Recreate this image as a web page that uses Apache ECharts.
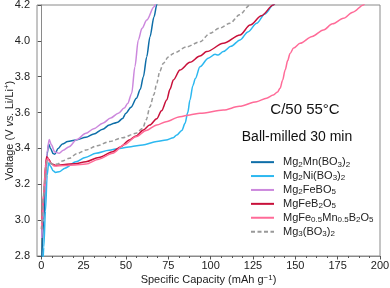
<!DOCTYPE html>
<html>
<head>
<meta charset="utf-8">
<script src="https://cdn.jsdelivr.net/npm/echarts@6/dist/echarts.min.js"></script>
<style>html,body{margin:0;padding:0;background:#fff}#c{width:390px;height:288px}</style>
</head>
<body>
<div id="c"></div>
<script>
var xTicks = [0, 25, 50, 75, 100, 125, 150, 175, 200];
var yTicks = [2.8, 3.0, 3.2, 3.4, 3.6, 3.8, 4.0, 4.2];
var seriesNames = ['Mg2Mn(BO3)2', 'Mg2Ni(BO3)2', 'Mg2FeBO5', 'MgFeB2O5', 'MgFe0.5Mn0.5B2O5', 'Mg3(BO3)2'];
var legendLabels = [
  'Mg{s|2}Mn(BO{s|3}){s|2}',
  'Mg{s|2}Ni(BO{s|3}){s|2}',
  'Mg{s|2}FeBO{s|5}',
  'MgFeB{s|2}O{s|5}',
  'MgFe{s|0.5}Mn{s|0.5}B{s|2}O{s|5}',
  'Mg{s|3}(BO{s|3}){s|2}'
];
var mg2mn = [[0.3,2.78],[1.5,3.0],[2.5,3.22],[3.5,3.37],[4.4,3.425],[5.5,3.40],[7,3.372],[8,3.368],[10,3.40],[12.5,3.425],[15.6,3.438],[20.5,3.447],[26.4,3.462],[31,3.48],[36.3,3.507],[40.2,3.531],[43,3.54],[45.1,3.546],[48,3.567],[50,3.596],[53,3.63],[56.2,3.68],[58.5,3.73],[60.3,3.8],[62.3,3.912],[64.2,4.023],[66.6,4.135],[68.2,4.2],[69,4.25]];
var mg2ni = [[1.0,2.75],[1.5,2.85],[2.5,3.05],[3.5,3.25],[4.4,3.32],[5.5,3.30],[7,3.275],[8.5,3.266],[10.6,3.27],[14,3.29],[20.5,3.326],[26,3.35],[32.3,3.373],[40,3.39],[46.1,3.40],[53,3.41],[59.9,3.419],[68.2,3.438],[73.7,3.447],[78,3.46],[80,3.475],[83,3.50],[84.9,3.54],[86.5,3.6],[87.8,3.67],[89.5,3.75],[91,3.79],[93.7,3.856],[98.6,3.903],[102.6,3.925],[104.5,3.921],[107.5,3.94],[112,3.97],[117.4,4.005],[122,4.05],[127.2,4.098],[132,4.15],[137,4.2],[138,4.21]];
var mg2febo5 = [[0.3,2.9],[2,3.15],[3.5,3.38],[4.7,3.45],[6,3.42],[8,3.38],[10.6,3.373],[13,3.39],[16.5,3.41],[21,3.45],[26.4,3.484],[31,3.51],[36.3,3.54],[41,3.57],[45.5,3.596],[49,3.625],[51,3.65],[53.4,3.707],[55.3,3.856],[57.3,4.005],[59.5,4.07],[62.3,4.116],[66.6,4.19],[67.5,4.21]];
var mgfeb2o5 = [[0.2,2.95],[1.5,3.15],[2.5,3.30],[3.2,3.354],[4.5,3.34],[6,3.315],[8.7,3.305],[14,3.31],[20,3.315],[26.4,3.326],[34,3.35],[42.2,3.382],[47,3.41],[52,3.447],[56,3.47],[60.3,3.503],[64,3.53],[68.2,3.565],[71,3.61],[74.1,3.67],[76,3.73],[78,3.782],[81.9,3.837],[87.8,3.88],[93.7,3.915],[97.7,3.94],[107.5,3.986],[117.4,4.033],[123.3,4.088],[130,4.14],[137,4.2],[138,4.21]];
var mgfemn = [[0.2,2.95],[1.5,3.15],[2.7,3.32],[3.8,3.345],[5,3.325],[7.7,3.302],[14,3.305],[20,3.308],[26.4,3.313],[34,3.34],[42.2,3.373],[49,3.42],[55.9,3.465],[62,3.5],[68.2,3.531],[73.7,3.549],[81.9,3.577],[87.8,3.587],[93.7,3.596],[107.5,3.614],[117,3.635],[127.2,3.661],[133,3.68],[137,3.698],[139.5,3.715],[141,3.735],[142.5,3.78],[144,3.837],[145.5,3.89],[146.9,3.93],[149,3.96],[152.8,3.986],[160,4.025],[166.6,4.061],[172,4.095],[178.4,4.126],[184,4.16],[190.2,4.2],[191,4.21]];
var mg3 = [[0.3,2.95],[2,3.2],[3.5,3.33],[5,3.32],[7,3.31],[9.7,3.313],[12.5,3.33],[16.5,3.345],[21,3.37],[26.4,3.391],[33,3.415],[40.2,3.438],[48,3.46],[55.9,3.484],[59.9,3.512],[62,3.56],[64.2,3.633],[66.5,3.70],[68.2,3.763],[70,3.83],[72.1,3.875],[75,3.91],[78,3.93],[85.9,3.967],[93.7,3.995],[99.6,4.042],[105,4.07],[111.5,4.098],[117,4.145],[123.3,4.2],[124,4.21]];
var seriesData = [mg2mn, mg2ni, mg2febo5, mgfeb2o5, mgfemn, mg3];
var colors = ['#0e6ea8', '#2cb8f0', '#cc88dd', '#c8103a', '#ff6b98', '#999999'];
var minorTicks = [];
for (var i = 0; i < xTicks.length - 1; i++) {
  for (var k = 1; k < 4; k++) minorTicks.push(xTicks[i] + (xTicks[i+1]-xTicks[i]) * k / 4);
}

var chart = echarts.init(document.getElementById('c'), null, {renderer: 'canvas'});
var font = 'Liberation Sans, Arial, sans-serif';
var series = seriesNames.map(function (n, i) {
  return {
    name: n, type: 'line', data: seriesData[i], symbol: 'none', smooth: 0.3, smoothMonotone: 'x',
    clip: true, xAxisIndex: 0, yAxisIndex: 0,
    lineStyle: {color: colors[i], width: 1.5, type: i === 5 ? [4, 2.5] : 'solid'},
    itemStyle: {color: colors[i]}
  };
});
var nameMap = {};
seriesNames.forEach(function (n, i) { nameMap[n] = legendLabels[i]; });

chart.setOption({
  animation: false,
  backgroundColor: '#fff',
  grid: {left: 37, right: 10, top: 5, bottom: 32, show: true, borderColor: '#8a8a8a', borderWidth: 1,
    containLabel: false, outerBoundsMode: 'none'},
  xAxis: [{
    type: 'value', min: -2.5, max: 200,
    axisLine: {show: true, lineStyle: {color: '#8a8a8a'}},
    axisTick: {show: true, customValues: xTicks, length: 3.5, lineStyle: {color: '#555'}},
    axisLabel: {customValues: xTicks, fontSize: 11, color: '#222', fontFamily: font, margin: 4},
    splitLine: {show: false},
    name: 'Specific Capacity (mAh g{sup|−1})', nameLocation: 'middle', nameGap: 18, nameMoveOverlap: false,
    nameTextStyle: {fontSize: 11, color: '#222', fontFamily: font,
      rich: {sup: {fontSize: 8, verticalAlign: 'top', lineHeight: 11, padding: [0,0,5,0], fontFamily: font, color: '#222'}}}
  }, {
    type: 'value', min: -2.5, max: 200, position: 'bottom', gridIndex: 0,
    axisLine: {show: false},
    axisTick: {show: true, customValues: minorTicks, length: 2, lineStyle: {color: '#555'}},
    axisLabel: {show: false},
    splitLine: {show: false}
  }],
  yAxis: {
    type: 'value', min: 2.8, max: 4.2, interval: 0.2,
    axisLine: {show: true, lineStyle: {color: '#8a8a8a'}},
    axisTick: {show: true, length: 3.5, lineStyle: {color: '#555'}},
    axisLabel: {fontSize: 11, color: '#222', fontFamily: font, margin: 7,
      formatter: function (v) { return v.toFixed(1); }},
    splitLine: {show: false},
    name: 'Voltage (V {i|vs.} Li/Li{sup|+})', nameLocation: 'middle', nameGap: 21, nameMoveOverlap: false,
    nameTextStyle: {fontSize: 11, color: '#222', fontFamily: font,
      rich: {
        i: {fontStyle: 'italic', fontSize: 11, color: '#222', fontFamily: font},
        sup: {fontSize: 8, verticalAlign: 'top', padding: [0,0,5,0], color: '#222', fontFamily: font}
      }}
  },
  legend: {
    orient: 'vertical', left: 245, top: 151, itemWidth: 23, itemHeight: 10, itemGap: 1.6,
    data: seriesNames,
    itemStyle: {opacity: 0},
    formatter: function (n) { return nameMap[n]; },
    textStyle: {fontSize: 11, color: '#222', fontFamily: font, lineHeight: 12.3, padding: [0,0,0,4],
      rich: {s: {fontSize: 8, color: '#222', fontFamily: font, verticalAlign: 'bottom', lineHeight: 8, padding: [4,0,0,0]}}}
  },
  graphic: [
    {type: 'text', x: 305, y: 110, style: {text: 'C/50 55°C', font: '15px ' + font, fill: '#111', align: 'center', verticalAlign: 'middle'}},
    {type: 'text', x: 297, y: 137, style: {text: 'Ball-milled 30 min', font: '14px ' + font, fill: '#111', align: 'center', verticalAlign: 'middle'}}
  ],
  series: series
});
</script>
</body>
</html>
